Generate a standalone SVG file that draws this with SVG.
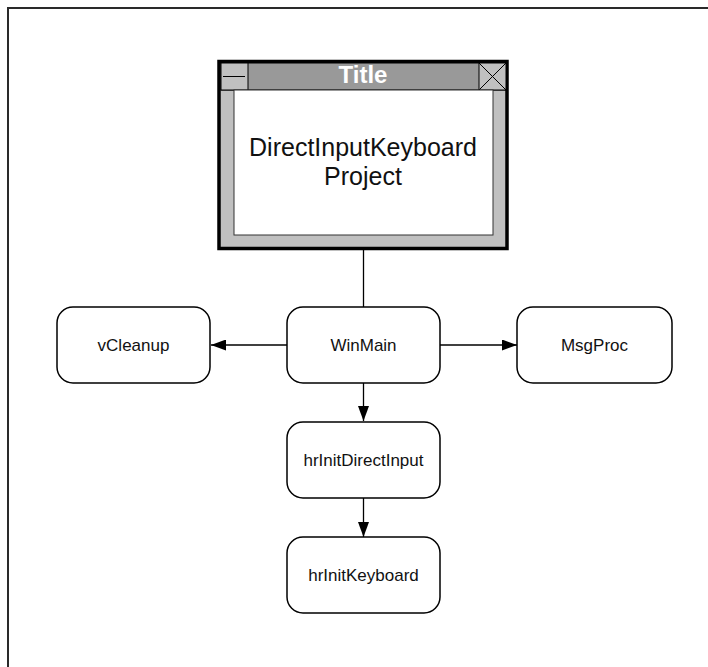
<svg xmlns="http://www.w3.org/2000/svg" width="708" height="667" viewBox="0 0 708 667">
<style>
.box{fill:#fff;stroke:#000;stroke-width:1.5}
.lbl{font-family:"Liberation Sans",Arial,sans-serif;font-size:17px;fill:#111;text-anchor:middle}
.con{stroke:#000;stroke-width:1.3;fill:none}
</style>
<defs>
<marker id="ah" viewBox="0 0 15 11" refX="15" refY="5.5" markerWidth="15" markerHeight="11" markerUnits="userSpaceOnUse" orient="auto">
<path d="M0,0 L15,5.5 L0,11 Z" fill="#000"/>
</marker>
</defs>
<rect width="708" height="667" fill="#fff"/>
<rect x="8" y="8" width="720" height="680" fill="none" stroke="#2a2a2a" stroke-width="2"/>
<g id="window">
<rect x="219" y="61.5" width="288" height="187" fill="#c0c0c0" stroke="#000" stroke-width="3.5"/>
<rect x="221" y="63" width="285" height="27" fill="#999" stroke="#000" stroke-width="1"/>
<rect x="221" y="63" width="27" height="27" fill="#c0c0c0" stroke="#000" stroke-width="1"/>
<line x1="223" y1="76.5" x2="245" y2="76.5" stroke="#000" stroke-width="1"/>
<rect x="479" y="63" width="27" height="27" fill="#c0c0c0" stroke="#000" stroke-width="1"/>
<path d="M479,63 L506,90 M506,63 L479,90" stroke="#000" stroke-width="1"/>
<text x="363" y="83" font-family="Liberation Sans,Arial,sans-serif" font-size="24" font-weight="bold" fill="#fff" text-anchor="middle">Title</text>
<rect x="234" y="90" width="259" height="145" fill="#fff" stroke="#333" stroke-width="1"/>
<text x="363" y="156" font-family="Liberation Sans,Arial,sans-serif" font-size="25" fill="#111" text-anchor="middle">DirectInputKeyboard</text>
<text x="363" y="185" font-family="Liberation Sans,Arial,sans-serif" font-size="25" fill="#111" text-anchor="middle">Project</text>
</g>
<g id="connectors">
<line class="con" x1="363.5" y1="250" x2="363.5" y2="307"/>
<line class="con" x1="287" y1="345" x2="211" y2="345" marker-end="url(#ah)"/>
<line class="con" x1="440" y1="345" x2="517" y2="345" marker-end="url(#ah)"/>
<line class="con" x1="363.5" y1="383" x2="363.5" y2="421" marker-end="url(#ah)"/>
<line class="con" x1="363.5" y1="498" x2="363.5" y2="537" marker-end="url(#ah)"/>
</g>
<g id="vCleanup">
<rect class="box" x="57" y="307" width="153" height="76" rx="16"/>
<text class="lbl" x="133.5" y="350.5">vCleanup</text>
</g>
<g id="WinMain">
<rect class="box" x="287" y="307" width="153" height="76" rx="16"/>
<text class="lbl" x="363.5" y="350.5">WinMain</text>
</g>
<g id="MsgProc">
<rect class="box" x="517" y="307" width="155" height="76" rx="16"/>
<text class="lbl" x="594.5" y="350.5">MsgProc</text>
</g>
<g id="hrInitDirectInput">
<rect class="box" x="287" y="422" width="153" height="76" rx="16"/>
<text class="lbl" x="363.5" y="466">hrInitDirectInput</text>
</g>
<g id="hrInitKeyboard">
<rect class="box" x="287" y="537" width="153" height="76" rx="16"/>
<text class="lbl" x="363.5" y="581">hrInitKeyboard</text>
</g>
</svg>
